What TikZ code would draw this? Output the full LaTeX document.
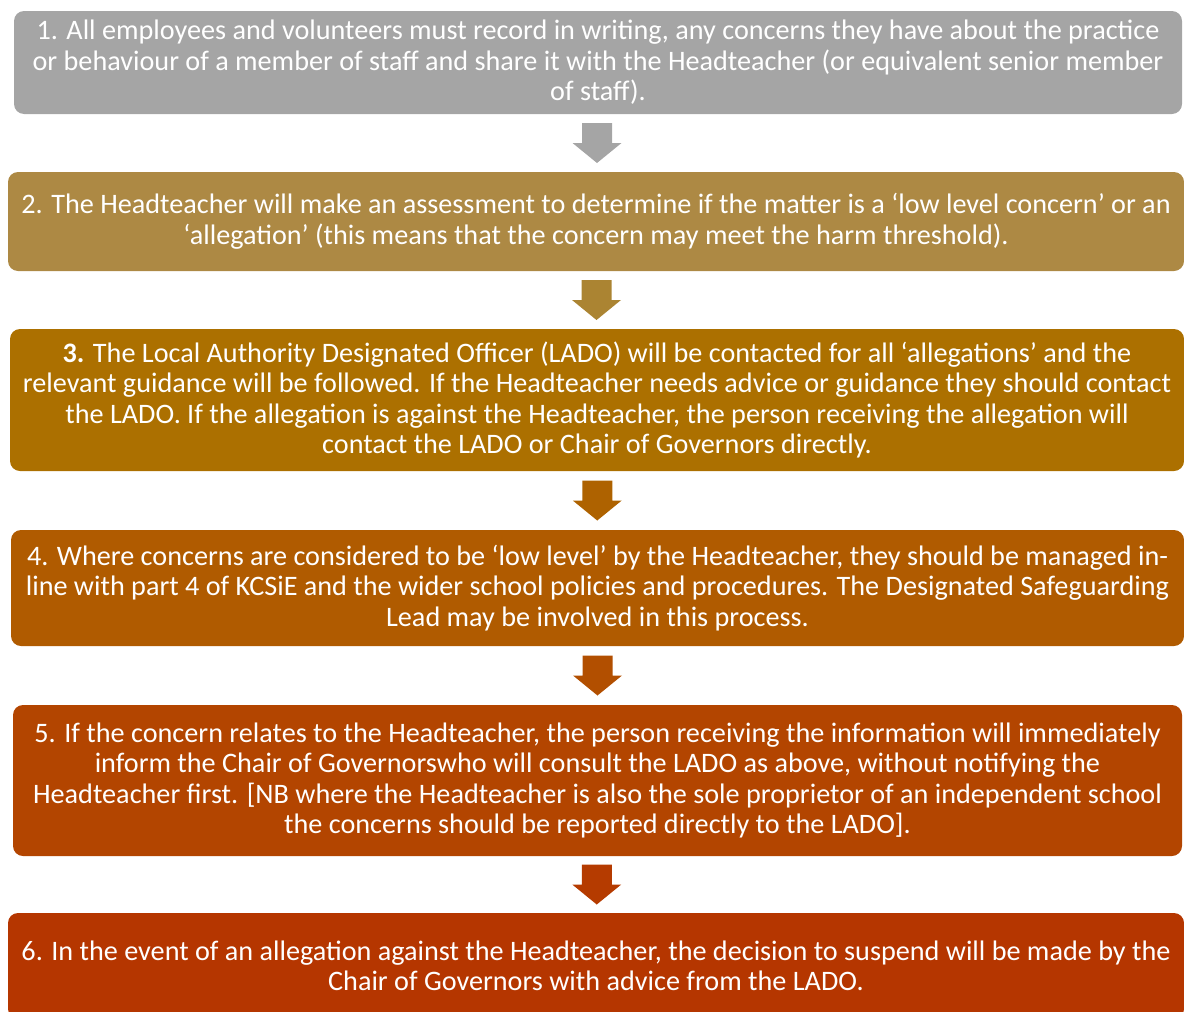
\documentclass[tikz,border=0pt]{standalone}
\usepackage{fontspec}
\setmainfont{Carlito}
\usetikzlibrary{calc}
\definecolor{c1}{HTML}{A5A5A5}
\definecolor{c2}{HTML}{AD8944}
\definecolor{a2}{HTML}{AB8432}
\definecolor{c3}{HTML}{AC7000}
\definecolor{a3}{HTML}{AE6200}
\definecolor{c4}{HTML}{B05B00}
\definecolor{a4}{HTML}{B24F00}
\definecolor{c5}{HTML}{B34500}
\definecolor{a5}{HTML}{B53B00}
\definecolor{c6}{HTML}{B53600}
\tikzset{
  stepbox/.style={rounded corners=10pt, inner sep=0pt, align=center, text=white,
    font=\fontsize{28.2}{30.6}\selectfont},
}
\newcommand{\flowarrow}[3]{%
  \coordinate (m#1#2) at ($(#1.south)!0.5!(#2.north)$);
  \fill[#3] ($(m#1#2)+(-15,-20)$) -- ($(m#1#2)+(15,-20)$) -- ($(m#1#2)+(15,0)$)
    -- ($(m#1#2)+(24.5,0)$) -- ($(m#1#2)+(0,20)$) -- ($(m#1#2)+(-24.5,0)$)
    -- ($(m#1#2)+(-15,0)$) -- cycle;
}
\begin{document}
\begin{tikzpicture}[x=1pt,y=-1pt]
\useasboundingbox (0,0) rectangle (1184,1012);
\clip (0,0) rectangle (1184,1012);
\node[stepbox, fill=c1, minimum width=1168pt, minimum height=103pt] (b1) at (598,62.5)
  {1. All employees and volunteers must record in writing, any concerns they have about the practice\\
   or behaviour of a member of staff and share it with the Headteacher (or equivalent senior member\\
   of staff).};
\node[stepbox, fill=c2, minimum width=1176pt, minimum height=99pt] (b2) at (596,221.5)
  {2. The Headteacher will make an assessment to determine if the matter is a ‘low level concern’ or an\\
   ‘allegation’ (this means that the concern may meet the harm threshold).};
\node[stepbox, fill=c3, minimum width=1174pt, minimum height=142pt] (b3) at (597,400)
  {\textbf{3.} The Local Authority Designated Officer (LADO) will be contacted for all ‘allegations’ and the\\
   relevant guidance will be followed. If the Headteacher needs advice or guidance they should contact\\
   the LADO. If the allegation is against the Headteacher, the person receiving the allegation will\\
   contact the LADO or Chair of Governors directly.};
\node[stepbox, fill=c4, minimum width=1173pt, minimum height=116pt] (b4) at (597.5,588)
  {4. Where concerns are considered to be ‘low level’ by the Headteacher, they should be managed in-\\
   line with part 4 of KCSiE and the wider school policies and procedures. The Designated Safeguarding\\
   Lead may be involved in this process.};
\node[stepbox, fill=c5, minimum width=1169pt, minimum height=151pt] (b5) at (597.5,780.5)
  {5. If the concern relates to the Headteacher, the person receiving the information will immediately\\
   inform the Chair of Governorswho will consult the LADO as above, without notifying the\\
   Headteacher first. [NB where the Headteacher is also the sole proprietor of an independent school\\
   the concerns should be reported directly to the LADO].};
\node[stepbox, fill=c6, minimum width=1176pt, minimum height=106pt] (b6) at (596,966)
  {6. In the event of an allegation against the Headteacher, the decision to suspend will be made by the\\
   Chair of Governors with advice from the LADO.};
\flowarrow{b1}{b2}{c1}
\flowarrow{b2}{b3}{a2}
\flowarrow{b3}{b4}{a3}
\flowarrow{b4}{b5}{a4}
\flowarrow{b5}{b6}{a5}
\end{tikzpicture}
\end{document}
